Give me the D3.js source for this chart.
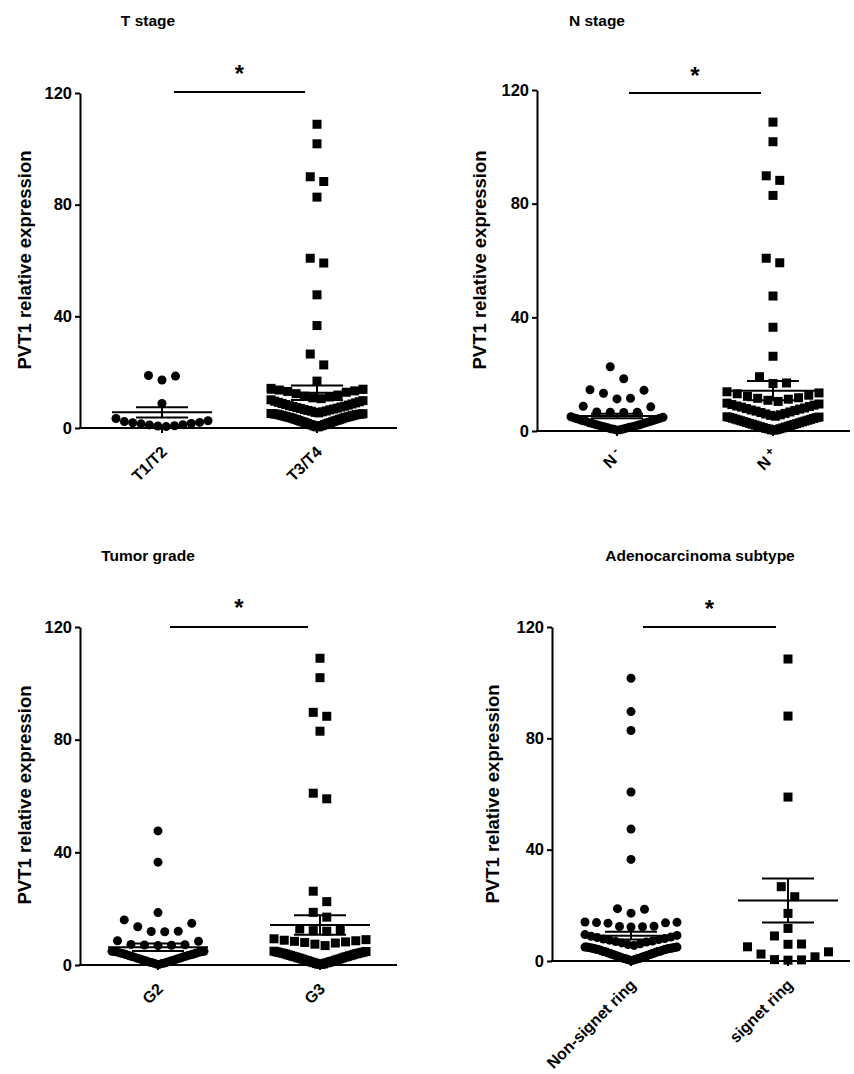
<!DOCTYPE html>
<html><head><meta charset="utf-8">
<script src="https://cdn.jsdelivr.net/npm/d3@7"></script>
<style>
body{margin:0;background:#fff}
svg{display:block}
text{font-family:"Liberation Sans",Arial,Helvetica,sans-serif;font-weight:bold;fill:#000}
</style>
</head><body>
<svg id="chart" width="854" height="1074"></svg>
<script>
// ---------------- DATA ----------------
const titles = ["T stage", "N stage", "Tumor grade", "Adenocarcinoma subtype"];
const categories = [["T1/T2", "T3/T4"], ["N -", "N +"], ["G2", "G3"], ["Non-signet ring", "signet ring"]];
const yTicks = [0, 40, 80, 120];
const yLabel = "PVT1 relative expression";
const sigMark = "*";

const tStageLow = [18.8, 17.2, 18.6, 8.8, 3.4, 2.6, 2.3, 2.0, 1.6, 1.2, 0.8, 0.5, 0.7, 1.1, 1.5, 1.9];
const tStageHigh = [0.4, 0.5, 0.7, 0.8, 0.9, 1.1, 1.2, 1.3, 1.5, 1.6, 1.8, 1.9, 2.0, 2.2, 2.3, 2.4, 2.6, 2.7, 2.8, 3.0,
  3.1, 3.2, 3.3, 3.5, 3.6, 3.7, 3.8, 3.9, 4.0, 4.1, 4.2, 4.3, 4.4, 4.5, 4.6, 4.7, 4.8, 4.9, 4.9, 5.0, 5.0, 5.1, 5.1, 5.2,
  5.4, 5.6, 5.8, 6.0, 6.1, 6.3, 6.5, 6.6, 6.8, 7.0, 7.1, 7.3, 7.5, 7.7, 7.8, 8.0, 8.2, 8.4, 8.6, 8.8, 9.0, 9.2, 9.4, 9.6, 9.8, 10.1,
  10.5, 10.8, 11.1, 11.4, 11.8, 12.3, 12.8, 13.1, 13.3, 13.6, 13.9, 14.2,
  16.8, 22.6, 26.5, 36.7, 47.7, 59.1, 60.8, 82.7, 88.3, 90.0, 101.8, 108.8];
const nStageNeg = [0.3, 0.4, 0.6, 0.7, 0.8, 1.0, 1.1, 1.3, 1.4, 1.5, 1.7, 1.8, 2.0, 2.1, 2.3, 2.4, 2.6, 2.8, 2.9, 3.1,
  3.3, 3.4, 3.6, 3.8, 3.9, 4.1, 4.3, 4.5, 4.6, 4.8, 5.0,
  6.5, 6.6, 6.6, 6.7, 8.5, 8.7, 11.3, 11.5, 13.3, 14.3, 14.5, 18.4, 22.6];
const nStagePos = [0.3, 0.4, 0.5, 0.7, 0.8, 0.9, 1.1, 1.2, 1.4, 1.5, 1.7, 1.8, 2.0, 2.1, 2.3, 2.4, 2.6, 2.7, 2.9, 3.0,
  3.2, 3.3, 3.5, 3.6, 3.8, 3.9, 4.1, 4.2, 4.4, 4.5, 4.7, 4.8, 4.9, 5.0,
  5.2, 5.5, 5.7, 6.0, 6.2, 6.5, 6.7, 7.0, 7.2, 7.4, 7.7, 7.9, 8.1, 8.4, 8.6, 8.8, 9.1, 9.3, 9.5, 9.8,
  10.4, 10.8, 11.2, 11.5, 11.7, 12.2, 12.6, 13.1, 13.4, 13.8, 16.7, 16.9, 19.1,
  26.3, 36.5, 47.5, 59.2, 60.8, 82.9, 88.2, 89.8, 101.8, 108.7];
const gradeG2 = [0.2, 0.3, 0.5, 0.6, 0.7, 0.9, 1.0, 1.1, 1.3, 1.4, 1.6, 1.7, 1.9, 2.0, 2.2, 2.3, 2.5, 2.6, 2.8, 2.9,
  3.1, 3.2, 3.4, 3.5, 3.6, 3.8, 3.9, 4.1, 4.2, 4.3, 4.5, 4.6, 4.7, 4.8, 4.9, 4.9,
  6.9, 7.0, 7.1, 7.2, 7.3, 8.4, 8.6, 11.8, 11.9, 12.0, 13.6, 14.8, 16.0, 18.6, 36.5, 47.6];
const gradeG3 = [0.2, 0.3, 0.4, 0.5, 0.7, 0.8, 0.9, 1.0, 1.2, 1.3, 1.4, 1.6, 1.7, 1.8, 2.0, 2.1, 2.2, 2.4, 2.5, 2.6,
  2.8, 2.9, 3.0, 3.1, 3.3, 3.4, 3.5, 3.6, 3.8, 3.9, 4.0, 4.1, 4.2, 4.3, 4.4, 4.5, 4.6, 4.7, 4.8, 4.9,
  6.9, 7.4, 7.8, 8.0, 8.2, 8.4, 8.6, 8.8, 9.0, 9.3, 12.0, 12.2, 12.5, 12.8,
  17.0, 18.7, 22.5, 26.2, 59.0, 61.0, 83.0, 88.3, 89.7, 102.0, 108.9];
const nonSignet = [0.2, 0.3, 0.3, 0.4, 0.5, 0.6, 0.7, 0.8, 0.8, 0.9, 1.0, 1.1, 1.2, 1.3, 1.4, 1.5, 1.6, 1.7, 1.8, 1.9,
  2.0, 2.1, 2.2, 2.3, 2.4, 2.5, 2.6, 2.7, 2.8, 2.9, 3.0, 3.1, 3.2, 3.3, 3.4, 3.4, 3.5, 3.6, 3.7, 3.8, 3.9,
  4.0, 4.1, 4.1, 4.2, 4.3, 4.4, 4.4, 4.5, 4.6, 4.6, 4.7, 4.7, 4.8, 4.8, 4.9, 4.9, 5.0, 5.0, 5.0,
  5.6, 5.9, 6.2, 6.5, 6.8, 7.0, 7.2, 7.5, 7.7, 7.9, 8.1, 8.4, 8.6, 8.9, 9.2, 9.5,
  12.2, 12.3, 12.4, 12.5, 13.6, 13.7, 13.8, 13.9, 14.0, 17.2, 18.6, 18.8,
  36.5, 47.4, 60.7, 82.8, 89.6, 101.6];
const signet = [0.3, 0.4, 0.5, 1.5, 2.5, 3.3, 5.1, 6.0, 6.1, 9.0, 11.7, 17.1, 23.1, 26.7, 58.9, 88.0, 108.5];

const groups = [[tStageLow, tStageHigh], [nStageNeg, nStagePos], [gradeG2, gradeG3], [nonSignet, signet]];
// mean and SEM
const means = [[5.6, 12.6], [5.3, 14.2], [6.3, 14.2], [9.1, 21.7]];
const sems  = [[1.8, 2.6], [0.8, 3.4], [1.3, 3.5], [1.4, 7.9]];

// ---------------- LAYOUT ----------------
const layout = [
  {ax: 80,  end: 397, c: [162, 317], y0: 428, y1: 93,  sigY: 92,  starY: 82,  title: [148, 26],  ylab: [24, 260]},
  {ax: 537, end: 850, c: [617, 773], y0: 431, y1: 90,  sigY: 93,  starY: 84,  title: [597, 26],  ylab: [479, 260]},
  {ax: 80,  end: 397, c: [158, 320], y0: 965, y1: 627, sigY: 627, starY: 616, title: [148, 561], ylab: [24, 795]},
  {ax: 552, end: 850, c: [631, 788], y0: 961, y1: 627, sigY: 627, starY: 617, title: [700, 561], ylab: [492, 794]}
];
const BIN = 13.5, MAXSP = 13.5, ROWW = 92, R = 4.5, SQ = 9;

function scatterLayout(vals, y) {
  const s = vals.slice().sort((a, b) => a - b);
  const rows = []; let cur = null;
  s.forEach(v => {
    if (!cur || (y(cur[0]) - y(v)) >= BIN) { cur = [v]; rows.push(cur); } else cur.push(v);
  });
  const pts = [];
  rows.forEach(r => {
    const n = r.length, sp = n > 1 ? Math.min(MAXSP, ROWW / (n - 1)) : 0;
    r.forEach((v, i) => {
      let k;
      if (n % 2) k = i === 0 ? 0 : (i % 2 ? Math.ceil(i / 2) : -i / 2);
      else k = (i % 2 === 0 ? 1 : -1) * (Math.floor(i / 2) + 0.5);
      pts.push({v: v, dx: k * sp});
    });
  });
  return pts;
}

const svg = d3.select("#chart");

layout.forEach((L, p) => {
  const g = svg.append("g");
  const y = d3.scaleLinear().domain([0, 120]).range([L.y0, L.y1]);
  const x = d3.scalePoint().domain(categories[p]).range(L.c);

  // title
  g.append("text").attr("x", L.title[0]).attr("y", L.title[1]).attr("text-anchor", "middle")
    .style("font-size", "15.5px").text(titles[p]);

  // y label
  g.append("text").attr("transform", `translate(${L.ylab[0]},${L.ylab[1]}) rotate(-90)`)
    .attr("text-anchor", "middle").attr("dominant-baseline", "central")
    .style("font-size", "18.5px").text(yLabel);

  // y axis
  const ya = g.append("g").attr("transform", `translate(${L.ax},0)`)
    .call(d3.axisLeft(y).tickValues(yTicks).tickSize(5).tickSizeOuter(0).tickPadding(3).tickFormat(d3.format("d")));
  ya.selectAll("path,line").attr("stroke", "#000").attr("stroke-width", 2);
  ya.selectAll("text").style("font-size", "16.5px").attr("font-family", null).attr("fill", "#000");

  // x axis
  g.append("line").attr("x1", L.ax - 1).attr("x2", L.end).attr("y1", y(0)).attr("y2", y(0))
    .attr("stroke", "#000").attr("stroke-width", 2);
  g.selectAll(".xt").data(categories[p]).enter().append("line")
    .attr("x1", d => x(d)).attr("x2", d => x(d)).attr("y1", y(0)).attr("y2", y(0) + 5)
    .attr("stroke", "#000").attr("stroke-width", 2);
  g.selectAll(".xl").data(categories[p]).enter().append("text")
    .attr("transform", d => `translate(${x(d) + 6},${y(0) + 25}) rotate(-45)`)
    .attr("text-anchor", "end").style("font-size", "16px")
    .each(function (d) {
      const t = d3.select(this);
      if (d.startsWith("N ")) {
        t.append("tspan").text("N");
        t.append("tspan").attr("dx", "3").attr("dy", "-6").style("font-size", "12px").text(d.slice(2));
      } else t.text(d);
    });

  // significance bar
  g.append("line").attr("x1", x(categories[p][0]) + 12).attr("x2", x(categories[p][1]) - 12)
    .attr("y1", L.sigY).attr("y2", L.sigY).attr("stroke", "#000").attr("stroke-width", 2);
  g.append("text").attr("x", (x(categories[p][0]) + x(categories[p][1])) / 2).attr("y", L.starY)
    .attr("text-anchor", "middle").style("font-size", "24px").text(sigMark);

  // points
  groups[p].forEach((vals, gi) => {
    const cx = x(categories[p][gi]);
    const pts = scatterLayout(vals, y);
    if (gi === 0) {
      g.selectAll(null).data(pts).enter().append("circle")
        .attr("cx", d => cx + d.dx).attr("cy", d => y(d.v)).attr("r", R).attr("fill", "#000");
    } else {
      g.selectAll(null).data(pts).enter().append("rect")
        .attr("x", d => cx + d.dx - SQ / 2).attr("y", d => y(d.v) - SQ / 2)
        .attr("width", SQ).attr("height", SQ).attr("fill", "#000");
    }
    // mean +/- SEM
    const m = means[p][gi], s = sems[p][gi];
    const bar = g.append("g").attr("stroke", "#000").attr("stroke-width", 2);
    bar.append("line").attr("x1", cx - 50).attr("x2", cx + 50).attr("y1", y(m)).attr("y2", y(m));
    bar.append("line").attr("x1", cx - 26).attr("x2", cx + 26).attr("y1", y(m + s)).attr("y2", y(m + s));
    bar.append("line").attr("x1", cx - 26).attr("x2", cx + 26).attr("y1", y(m - s)).attr("y2", y(m - s));
    bar.append("line").attr("x1", cx).attr("x2", cx).attr("y1", y(m + s)).attr("y2", y(m - s));
  });
});
</script>
</body></html>
